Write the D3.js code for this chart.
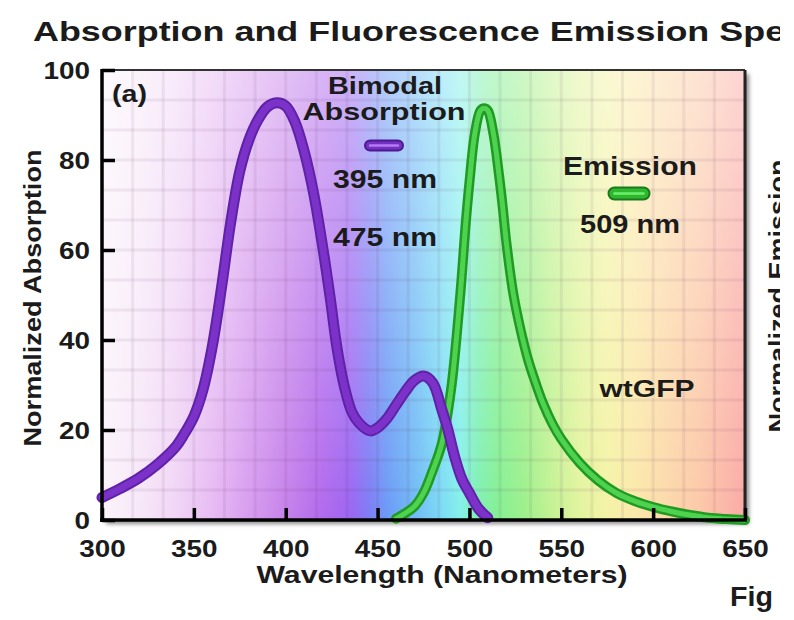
<!DOCTYPE html>
<html>
<head>
<meta charset="utf-8">
<script src="https://cdn.jsdelivr.net/npm/d3@7"></script>
<style>
body { margin: 0; background: #fff; }
svg { display: block; }
text { font-family: "Liberation Sans", Arial, Helvetica, sans-serif; font-weight: bold; fill: #1b1b1b; }
</style>
</head>
<body>
<svg id="chart" width="794" height="620"></svg>
<script>
// wtGFP absorption (bimodal) and emission
var absWavelength = [300, 310, 320, 330, 340, 345, 350, 355, 360, 365, 370, 375, 380, 385, 390, 395, 400, 405, 410, 415, 420, 424, 428, 432, 436, 440, 446, 450, 455, 460, 465, 470, 475, 480, 485, 488, 492, 496, 500, 505, 510];
var absValue = [5, 7, 9.3, 12.3, 16.2, 19.3, 23, 29, 38.5, 51.5, 66, 77.5, 84.5, 89, 91.8, 92.7, 92, 88.5, 82, 73, 61, 50, 38, 29.5, 24, 21.5, 19.8, 20.5, 22.5, 25.5, 28.5, 31, 32, 30.5, 24.5, 20.5, 14, 9, 6, 2.5, 0.5];

var emWavelength = [460, 465, 470, 475, 480, 485, 490, 495, 498, 500, 503, 506, 508, 510, 513, 516, 518, 520, 524, 528, 532, 536, 540, 545, 550, 560, 570, 580, 590, 600, 610, 620, 630, 640, 650];
var emValue = [0.3, 1.5, 3, 6, 11, 17, 29, 50, 66, 75, 86, 91, 91.5, 91, 86, 77, 70, 62, 50, 42, 35.5, 30.5, 26, 21.5, 18, 12.7, 8.8, 6, 4.2, 2.9, 1.9, 1.1, 0.5, 0.2, 0];

var xTicks = [300, 350, 400, 450, 500, 550, 600, 650];
var yTicks = [0, 20, 40, 60, 80, 100];

var absLabels = ["Bimodal", "Absorption"];
var absPeaks = ["395 nm", "475 nm"];
var emLabel = "Emission";
var emPeak = "509 nm";

var svg = d3.select("#chart");
var defs = svg.append("defs");

var x = d3.scaleLinear().domain([300, 650]).range([102, 745]);
var y = d3.scaleLinear().domain([0, 100]).range([520, 70]);

// visible spectrum behind the plot
var spectrum = [
	[300, "#fbf4fb"], [320, "#f7e8f8"], [340, "#f1d6f6"], [360, "#e7bbf3"], [380, "#d79def"],
	[400, "#c682ea"], [420, "#b26aed"], [435, "#9c66f2"], [445, "#7f7cf5"], [455, "#6c9af6"],
	[470, "#70baf6"], [485, "#7cdcf5"], [495, "#84f0ea"], [505, "#80f0b4"], [515, "#84f094"],
	[530, "#9ef08c"], [545, "#c4f294"], [560, "#e2f49e"], [575, "#f4f3a6"], [590, "#fbe9aa"],
	[605, "#fcdbaa"], [625, "#fcc9a8"], [650, "#faa9a6"]
];
defs.append("linearGradient")
  .attr("id", "spec")
  .attr("gradientUnits", "userSpaceOnUse")
  .attr("x1", x(300)).attr("x2", x(650)).attr("y1", 0).attr("y2", 0)
  .selectAll("stop")
  .data(spectrum)
  .enter().append("stop")
  .attr("offset", d => (d[0] - 300) / 350)
  .attr("stop-color", d => d[1]);

var fade = defs.append("linearGradient")
  .attr("id", "fade")
  .attr("x1", 0).attr("x2", 0).attr("y1", 0).attr("y2", 1);
fade.append("stop").attr("offset", 0).attr("stop-color", "#fff").attr("stop-opacity", 0.5);
fade.append("stop").attr("offset", 1).attr("stop-color", "#fff").attr("stop-opacity", 0);

defs.append("filter").attr("id", "blur")
  .append("feGaussianBlur").attr("stdDeviation", 2);

defs.append("clipPath").attr("id", "pageclip")
  .append("rect").attr("x", 0).attr("y", 0).attr("width", 780).attr("height", 620);

var g = svg.append("g").attr("clip-path", "url(#pageclip)");

var pw = x(650) - x(300), ph = y(0) - y(100);

// shadow + background
g.append("rect")
  .attr("x", x(300) + 4).attr("y", y(100) + 4)
  .attr("width", pw).attr("height", ph)
  .style("fill", "#000").style("opacity", 0.45)
  .attr("filter", "url(#blur)");
g.append("rect")
  .attr("x", x(300)).attr("y", y(100))
  .attr("width", pw).attr("height", ph)
  .style("fill", "url(#spec)");
g.append("rect")
  .attr("x", x(300)).attr("y", y(100))
  .attr("width", pw).attr("height", ph)
  .style("fill", "url(#fade)");

// grid: 3 cells per major tick
var grid = g.append("g").attr("class", "grid");
grid.selectAll(".gv")
  .data(d3.range(1, 21).map(i => 300 + i * 50 / 3))
  .enter().append("line")
  .attr("x1", d => x(d)).attr("x2", d => x(d))
  .attr("y1", y(100)).attr("y2", y(0))
  .style("stroke", "#5a2a5a").style("stroke-opacity", 0.08).style("stroke-width", 3);
grid.selectAll(".gh")
  .data(d3.range(1, 15).map(i => i * 20 / 3))
  .enter().append("line")
  .attr("x1", x(300)).attr("x2", x(650))
  .attr("y1", d => y(d)).attr("y2", d => y(d))
  .style("stroke", "#5a2a5a").style("stroke-opacity", 0.08).style("stroke-width", 3);

// frame
g.append("line").attr("x1", x(300)).attr("x2", x(650)).attr("y1", y(100)).attr("y2", y(100))
  .style("stroke", "#333").style("stroke-width", 2);
g.append("line").attr("x1", x(650)).attr("x2", x(650)).attr("y1", y(100)).attr("y2", y(0))
  .style("stroke", "#222").style("stroke-width", 3);

// curves
var line = d3.line()
  .x(d => x(d[0]))
  .y(d => y(d[1]))
  .curve(d3.curveCatmullRom.alpha(0.5));

var emData = emWavelength.map((w, i) => [w, emValue[i]]);
var absData = absWavelength.map((w, i) => [w, absValue[i]]);

g.append("path").attr("d", line(emData))
  .style("fill", "none").style("stroke", "#1f9a22").style("stroke-width", 10)
  .style("stroke-linecap", "round").style("stroke-linejoin", "round");
g.append("path").attr("d", line(emData))
  .style("fill", "none").style("stroke", "#4fd24f").style("stroke-width", 5)
  .style("stroke-linecap", "round").style("stroke-linejoin", "round");

g.append("path").attr("d", line(absData))
  .style("fill", "none").style("stroke", "#5e22a8").style("stroke-width", 11)
  .style("stroke-linecap", "round").style("stroke-linejoin", "round");
g.append("path").attr("d", line(absData))
  .style("fill", "none").style("stroke", "#7c32c8").style("stroke-width", 7)
  .style("stroke-linecap", "round").style("stroke-linejoin", "round");

// axes
var yAxis = d3.axisLeft(y).tickValues(yTicks).tickSize(-13).tickPadding(12);
var xAxis = d3.axisBottom(x).tickValues(xTicks).tickSize(-12).tickPadding(20);

var ya = g.append("g").attr("transform", "translate(" + x(300) + ",0)").call(yAxis);
var xa = g.append("g").attr("transform", "translate(0," + y(0) + ")").call(xAxis);
[ya, xa].forEach(function(a) {
	a.select(".domain").remove();
	a.selectAll(".tick line").style("stroke", "#000").style("stroke-width", 3.5);
	a.selectAll(".tick text")
	  .attr("font-size", 24)
	  .style("font-family", null)
	  .attr("fill", null)
	  .attr("lengthAdjust", "spacingAndGlyphs")
	  .attr("textLength", d => String(d).length * 15.5);
});
ya.selectAll(".tick text").attr("dy", "0.35em");

g.append("line").attr("x1", x(300)).attr("x2", x(300)).attr("y1", y(100) - 1).attr("y2", y(0) + 2)
  .style("stroke", "#000").style("stroke-width", 3.5);
g.append("line").attr("x1", x(300) - 2).attr("x2", x(650) + 2).attr("y1", y(0)).attr("y2", y(0))
  .style("stroke", "#000").style("stroke-width", 3.5);

// texts
function label(txt, px, py, size, len, anchor) {
	return g.append("text")
	  .attr("x", px).attr("y", py)
	  .attr("font-size", size)
	  .attr("text-anchor", anchor || "middle")
	  .attr("textLength", len)
	  .attr("lengthAdjust", "spacingAndGlyphs")
	  .text(txt);
}

label("Absorption and Fluorescence Emission Spectra", 33, 41, 28, 818, "start");
label("(a)", 112, 102, 24, 35, "start");
label(absLabels[0], 385, 94, 24, 114);
label(absLabels[1], 384, 120, 24, 163);
label(absPeaks[0], 385, 188, 25, 104);
label(absPeaks[1], 385, 246, 25, 104);
label(emLabel, 630, 175, 25, 134);
label(emPeak, 630, 233, 25, 100);
label("wtGFP", 647, 397, 24, 95);
label("Wavelength (Nanometers)", 442, 583, 24, 371);
label("Fig", 730, 606, 27, 43, "start");

label("Normalized Absorption", 0, 0, 23, 297)
  .attr("transform", "translate(41,298) rotate(-90)");
label("Normalized Emission", 0, 0, 23, 273)
  .attr("transform", "translate(786,296) rotate(-90)");

// legend pills
function pill(cx, cy, w, h, outer, fill, inner) {
	g.append("rect")
	  .attr("x", cx - w / 2).attr("y", cy - h / 2)
	  .attr("width", w).attr("height", h)
	  .attr("rx", h / 2)
	  .style("fill", fill).style("stroke", outer).style("stroke-width", 2);
	g.append("line")
	  .attr("x1", cx - w / 2 + h / 2).attr("x2", cx + w / 2 - h / 2)
	  .attr("y1", cy).attr("y2", cy)
	  .style("stroke", inner).style("stroke-width", 2.5).style("stroke-linecap", "round");
}
pill(384, 145.5, 38, 10, "#4a1a8e", "#7430c4", "#b47af0");
pill(629, 193.5, 41, 12, "#1a7a1c", "#2fb82f", "#6cf06c");
</script>
</body>
</html>
